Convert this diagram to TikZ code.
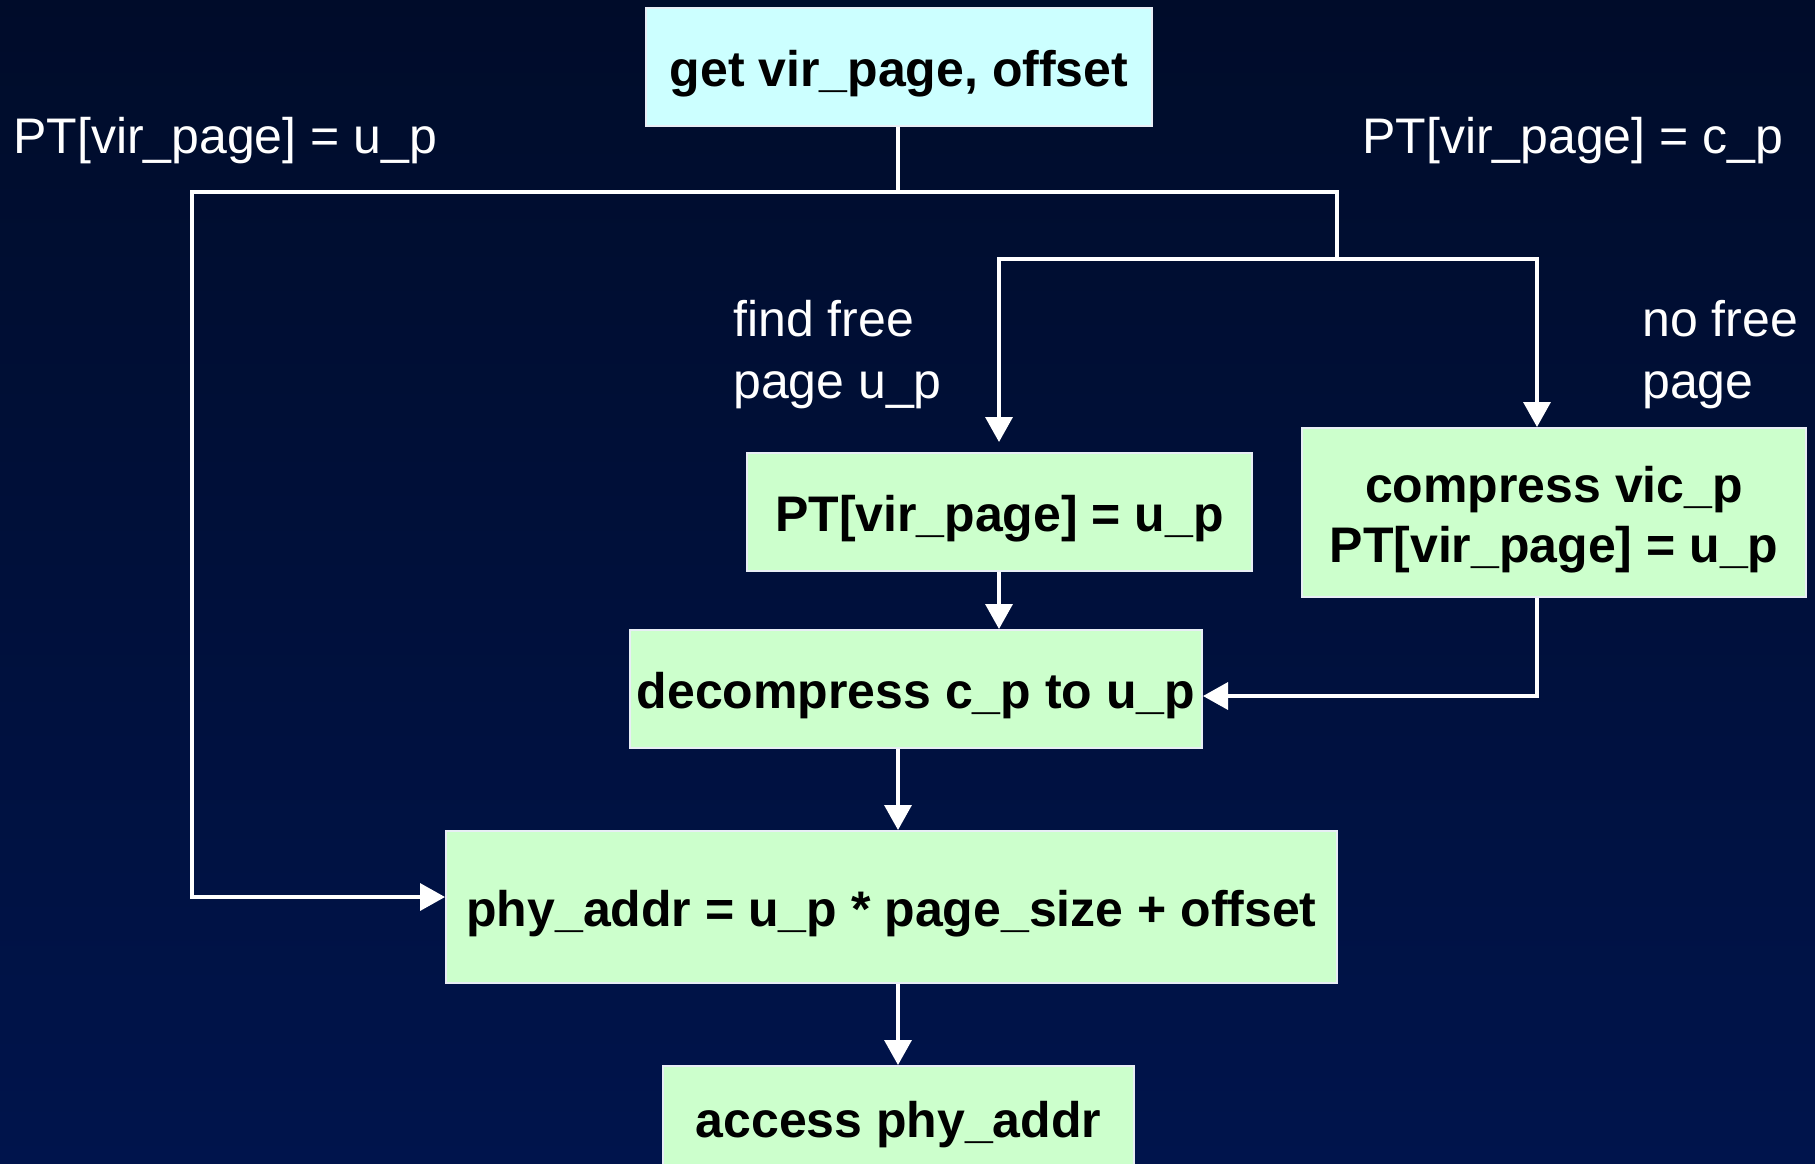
\documentclass[tikz,border=0pt]{standalone}
\usepackage{fontspec}
\setmainfont{Liberation Sans}
\usetikzlibrary{arrows.meta}
\definecolor{bgtop}{RGB}{0,12,42}
\definecolor{bgbot}{RGB}{0,20,76}
\definecolor{boxcyan}{RGB}{204,255,255}
\definecolor{boxgreen}{RGB}{204,255,204}
\definecolor{rim}{RGB}{232,238,245}

\begin{document}
\begin{tikzpicture}[x=1pt,y=-1pt,
  boxbase/.style={draw=rim, line width=2pt, fill=boxgreen, align=center,
    inner sep=0pt, font=\fontsize{50}{60}\selectfont\bfseries},
  stepbox/.style={boxbase, execute at begin node={\rule{0pt}{50pt}}},
  flow/.style={draw=white, line width=3.5pt},
  arr/.style={flow, -{Triangle[length=25pt,width=27pt]}},
  cond/.style={text=white, inner sep=0pt, font=\fontsize{50}{62}\selectfont}
]
% background
\shade[top color=bgtop, bottom color=bgbot] (0,0) rectangle (1815,1163);
\useasboundingbox (0,0) rectangle (1815,1163);

% boxes
\node[stepbox, fill=boxcyan, minimum width=506pt, minimum height=118pt] (get) at (899,67) {get vir\_page, offset};
\node[stepbox, minimum width=505pt, minimum height=118pt] (ptmid) at (999.5,512) {PT[vir\_page] = u\_p};
\node[stepbox, minimum width=504pt, minimum height=169pt] (comp) at (1554,512.5) {\rule{0pt}{50pt}compress vic\_p\\PT[vir\_page] = u\_p};
\node[stepbox, minimum width=572pt, minimum height=118pt] (decomp) at (916,689) {decompress c\_p to u\_p};
\node[stepbox, minimum width=891pt, minimum height=152pt] (phy) at (891.5,907) {phy\_addr = u\_p * page\_size + offset};
\node[boxbase, minimum width=471pt, minimum height=118pt] (access) at (898.5,1125) {access phy\_addr};

% condition labels
\node[cond, anchor=base west] (lblU) at (13,153) {PT[vir\_page] = u\_p};
\node[cond, anchor=base west] (lblC) at (1362,153) {PT[vir\_page] = c\_p};
\node[cond, anchor=base west] (lblFree1) at (733,336) {find free};
\node[cond, anchor=base west] (lblFree2) at (733,398) {page u\_p};
\node[cond, anchor=base west] (lblNo1) at (1642,336) {no free};
\node[cond, anchor=base west] (lblNo2) at (1642,398) {page};

% junction points
\coordinate (split) at (898,192);
\coordinate (lefttop) at (192,192);
\coordinate (righttop) at (1337,192);
\coordinate (fork) at (1337,259);
\coordinate (forkL) at (999,259);
\coordinate (forkR) at (1537,259);
\coordinate (leftbot) at (192,897);
\coordinate (elbow) at (1537,696);

% connectors
\draw[flow] (get.south -| split) -- (split);
\draw[arr] (split) -- (lefttop) -- (leftbot) -- (leftbot -| phy.west);
\draw[flow] (split) -- (righttop) -- (fork);
\draw[arr, shorten >=10pt] (fork) -- (forkL) -- (forkL |- ptmid.north);
\draw[arr] (fork) -- (forkR) -- (forkR |- comp.north);
\draw[arr] (forkL |- ptmid.south) -- (forkL |- decomp.north);
\draw[arr] (comp.south -| elbow) -- (elbow) -- (elbow -| decomp.east);
\draw[arr] (decomp.south -| split) -- (split |- phy.north);
\draw[arr] (phy.south -| split) -- (split |- access.north);
\end{tikzpicture}
\end{document}
